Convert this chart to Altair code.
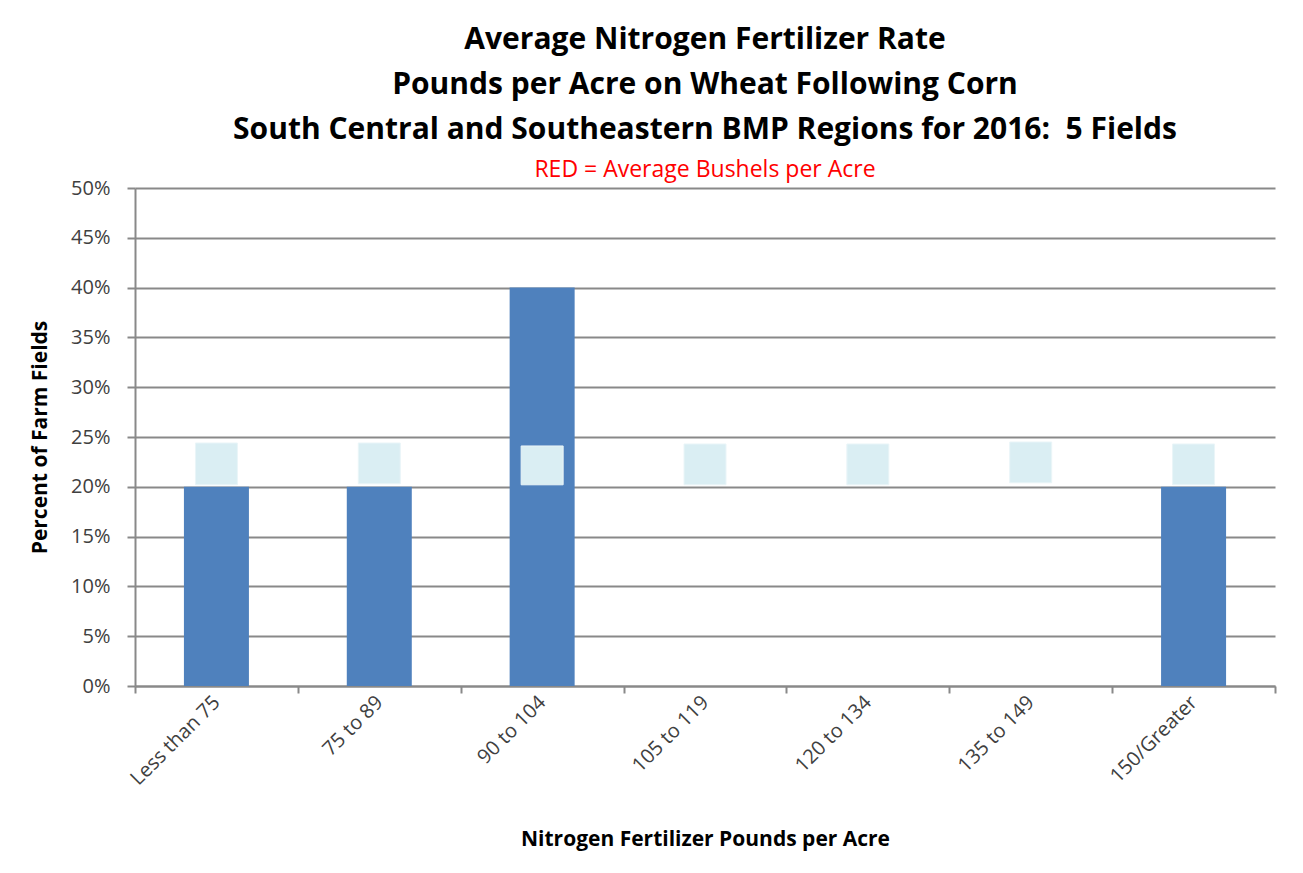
import altair as alt
import pandas as pd

categories = ["Less than 75", "75 to 89", "90 to 104", "105 to 119",
              "120 to 134", "135 to 149", "150/Greater"]
percent = [0.20, 0.20, 0.40, 0.0, 0.0, 0.0, 0.20]
box_low = [0.202, 0.203, 0.202, 0.202, 0.202, 0.204, 0.202]
box_high = [0.244, 0.244, 0.241, 0.243, 0.243, 0.245, 0.243]

df = pd.DataFrame({"cat": categories, "pct": percent, "lo": box_low, "hi": box_high})

FONT = "Open Sans"

x_enc = alt.X("cat:N", sort=categories,
              scale=alt.Scale(paddingInner=0, paddingOuter=0),
              axis=alt.Axis(title="Nitrogen Fertilizer Pounds per Acre", labelAngle=-45,
                            labelAlign="right", labelBaseline="middle", tickBand="extent",
                            labelFontSize=20, labelColor="#404040", labelFont=FONT,
                            titleFontSize=21, titleFont=FONT, titleFontWeight="bold",
                            titleColor="#000000", titlePadding=40,
                            domainColor="#898989", domainWidth=2, tickColor="#898989",
                            tickWidth=2, tickSize=7, labelPadding=6))

y_enc = alt.Y("pct:Q", scale=alt.Scale(domain=[0, 0.5]),
              axis=alt.Axis(title="Percent of Farm Fields", format=".0%", values=[i * 0.05 for i in range(11)],
                            labelFontSize=20, labelColor="#404040", labelFont=FONT,
                            titleFontSize=21, titleFont=FONT, titleFontWeight="bold",
                            titleColor="#000000", titlePadding=20,
                            grid=True, gridColor="#898989", gridWidth=2,
                            domainColor="#898989", domainWidth=2, tickColor="#898989",
                            tickWidth=2, tickSize=8, labelPadding=17))

bars = alt.Chart(df).mark_bar(color="#4F81BD", size=65).encode(x=x_enc, y=y_enc)

boxes = alt.Chart(df).mark_bar(color="#DAEEF3", size=42, stroke="#EAF5F8", strokeWidth=1).encode(
    x=alt.X("cat:N", sort=categories),
    y=alt.Y("lo:Q"),
    y2="hi:Q",
)

chart = alt.layer(bars, boxes).properties(
    width=1140,
    height=498,
    title=alt.TitleParams(
        text=["Average Nitrogen Fertilizer Rate",
              "Pounds per Acre on Wheat Following Corn",
              "South Central and Southeastern BMP Regions for 2016:\u00a0 5 Fields"],
        subtitle="RED = Average Bushels per Acre",
        font=FONT, fontSize=30, fontWeight="bold", color="#000000", lineHeight=45,
        subtitleFont=FONT, subtitleFontSize=23, subtitleColor="#FF0000",
        subtitlePadding=14, anchor="middle", offset=-4,
    ),
    autosize=alt.AutoSizeParams(type="none"),
    padding={"left": 127, "top": 180, "right": 20, "bottom": 180},
).configure(background="white").configure_view(stroke=None)

chart.save("out.html", embed_options={"renderer": "svg", "actions": False})
